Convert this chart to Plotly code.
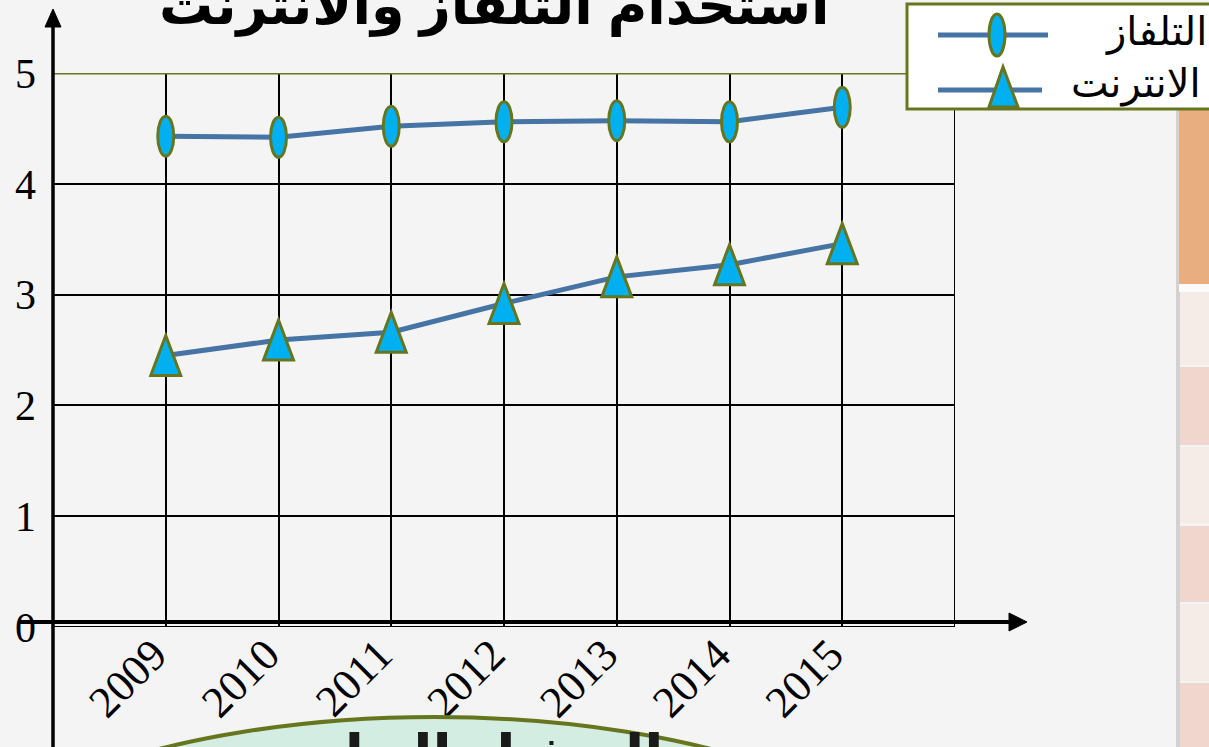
import plotly.graph_objects as go

# ---------------- data ----------------
years = ["2009", "2010", "2011", "2012", "2013", "2014", "2015"]
tv = [4.43, 4.42, 4.52, 4.56, 4.57, 4.56, 4.69]
internet = [2.45, 2.59, 2.66, 2.92, 3.16, 3.27, 3.46]
y_ticks = [0, 1, 2, 3, 4, 5]
series_names = ["التلفاز", "الانترنت"]
title_text = "استخدام التلفاز والانترنت"
banner_text = "التمثيل البياني"

# ---------------- style ----------------
W, H = 1209, 747
L, R, T, B = 53, 955, 73, 627
BG = "#f4f4f4"
LINE = "#4674a4"
FILL = "#00b0f0"
OLIVE = "#66761e"
SERIF = "Liberation Serif, Times New Roman, serif"
SANS = "Arial, Liberation Sans, DejaVu Sans, sans-serif"

XMAX = len(years) + 1
YMAX = 5
xu = XMAX / (R - L)   # data units per pixel
yu = YMAX / (B - T)


def px(x):
    return (x - L) / (R - L)


def py(y):
    return (B - y) / (B - T)


xpos = list(range(1, len(years) + 1))

fig = go.Figure()
fig.add_trace(go.Scatter(x=xpos, y=tv, mode="lines", name=series_names[0],
                         line=dict(color=LINE, width=5), showlegend=False))
fig.add_trace(go.Scatter(x=xpos, y=internet, mode="lines", name=series_names[1],
                         line=dict(color=LINE, width=5), showlegend=False))

shapes = []

# grid edges
shapes.append(dict(type="line", xref="x", yref="y", x0=XMAX, x1=XMAX, y0=0, y1=YMAX,
                   line=dict(color="black", width=2), layer="below"))
shapes.append(dict(type="line", xref="x", yref="y", x0=0, x1=XMAX, y0=0, y1=0,
                   line=dict(color="black", width=2), layer="above"))
shapes.append(dict(type="line", xref="x", yref="y", x0=0, x1=XMAX, y0=YMAX, y1=YMAX,
                   line=dict(color=OLIVE, width=3), layer="above"))

# ellipse markers (TV)
ew, eh = 8 * xu, 20 * yu
for xi, v in zip(xpos, tv):
    shapes.append(dict(type="circle", xref="x", yref="y", x0=xi - ew, x1=xi + ew,
                       y0=v - eh, y1=v + eh, fillcolor=FILL,
                       line=dict(color=OLIVE, width=3), layer="above"))

# triangle markers (Internet)
tw, th = 15 * xu, 20 * yu
for xi, v in zip(xpos, internet):
    path = f"M {xi - tw},{v - th} L {xi + tw},{v - th} L {xi},{v + th} Z"
    shapes.append(dict(type="path", xref="x", yref="y", path=path, fillcolor=FILL,
                       line=dict(color=OLIVE, width=3), layer="above"))

# axes with arrows
shapes.append(dict(type="line", xref="paper", yref="paper", x0=px(53), x1=px(53),
                   y0=py(760), y1=py(24), line=dict(color="black", width=3.5), layer="above"))
shapes.append(dict(type="path", xref="paper", yref="paper",
                   path=f"M {px(53)},{py(9)} L {px(45)},{py(27)} L {px(61)},{py(27)} Z",
                   fillcolor="black", line=dict(color="black", width=1), layer="above"))
shapes.append(dict(type="line", xref="paper", yref="paper", x0=px(19), x1=px(1012),
                   y0=py(622), y1=py(622), line=dict(color="black", width=4), layer="above"))
shapes.append(dict(type="path", xref="paper", yref="paper",
                   path=f"M {px(1027)},{py(622)} L {px(1009)},{py(613)} L {px(1009)},{py(631)} Z",
                   fillcolor="black", line=dict(color="black", width=1), layer="above"))

# right-hand table strip
def rect(x0, y0, x1, y1, color, line=None):
    return dict(type="rect", xref="paper", yref="paper", x0=px(x0), x1=px(x1),
                y0=py(y1), y1=py(y0), fillcolor=color,
                line=line if line else dict(width=0), layer="above")

shapes.append(rect(1176, 108, 1180, 760, "#d2d2d2"))
shapes.append(rect(1179, 108, 1215, 284, "#e8ae7f"))
shapes.append(rect(1179, 284, 1215, 292, "#fbfbfb"))
rows = [(292, 365, "#f5ebe7"), (367, 445, "#f0d6cd"), (447, 523, "#f5ebe7"),
        (526, 602, "#f0d6cd"), (604, 681, "#f5ebe7"), (683, 760, "#f0d6cd")]
for y0, y1, c in rows:
    shapes.append(rect(1180, y0, 1215, y1, c))

# legend box
shapes.append(rect(907, 4, 1215, 109, "white", dict(color=OLIVE, width=3)))
shapes.append(dict(type="line", xref="paper", yref="paper", x0=px(938), x1=px(1048),
                   y0=py(35), y1=py(35), line=dict(color=LINE, width=5), layer="above"))
shapes.append(dict(type="circle", xref="paper", yref="paper", x0=px(989), x1=px(1005),
                   y0=py(56), y1=py(14), fillcolor=FILL, line=dict(color=OLIVE, width=3),
                   layer="above"))
shapes.append(dict(type="line", xref="paper", yref="paper", x0=px(938), x1=px(1042),
                   y0=py(90), y1=py(90), line=dict(color=LINE, width=5), layer="above"))
shapes.append(dict(type="path", xref="paper", yref="paper",
                   path=f"M {px(989)},{py(107)} L {px(1018)},{py(107)} L {px(1003)},{py(67)} Z",
                   fillcolor=FILL, line=dict(color=OLIVE, width=3), layer="above"))

# bottom green banner
shapes.append(dict(type="circle", xref="paper", yref="paper", x0=px(-85), x1=px(955),
                   y0=py(1137), y1=py(717), fillcolor="#d3ede2",
                   line=dict(color=OLIVE, width=4), layer="above"))

annotations = [
    dict(text=f"<b>{title_text}</b>", xref="paper", yref="paper", x=px(494), y=py(6),
         xanchor="center", yanchor="middle", showarrow=False,
         font=dict(family=SANS, size=54, color="black")),
    dict(text=series_names[0], xref="paper", yref="paper", x=px(1156), y=py(32),
         xanchor="center", yanchor="middle", showarrow=False,
         font=dict(family=SANS, size=40, color="black")),
    dict(text=series_names[1], xref="paper", yref="paper", x=px(1136), y=py(84),
         xanchor="center", yanchor="middle", showarrow=False,
         font=dict(family=SANS, size=40, color="black")),
    dict(text=f"<b>{banner_text}</b>", xref="paper", yref="paper", x=px(465), y=py(756),
         xanchor="center", yanchor="middle", showarrow=False,
         font=dict(family=SANS, size=56, color="#1a1a1a")),
]

fig.update_layout(
    width=W, height=H,
    margin=dict(l=L, r=W - R, t=T, b=H - B, autoexpand=False),
    paper_bgcolor=BG, plot_bgcolor=BG,
    shapes=shapes, annotations=annotations, showlegend=False,
    xaxis=dict(range=[0, XMAX], tickvals=xpos, ticktext=years, tickangle=-45,
               showgrid=True, gridcolor="black", gridwidth=2, zeroline=False,
               showline=False, ticks="", automargin=False, ticklabelshift=-12,
               ticklabelstandoff=-8,
               tickfont=dict(family=SERIF, size=44, color="black")),
    yaxis=dict(range=[0, YMAX], tickvals=y_ticks, showgrid=True, gridcolor="black",
               gridwidth=2, zeroline=False, showline=False, ticks="", automargin=False,
               ticklabelstandoff=16,
               tickfont=dict(family=SERIF, size=42, color="black")),
)

fig.write_html(
    "out.html",
    config={"displayModeBar": False},
    post_script="document.body.style.margin='0';document.body.style.background='#f4f4f4';"
                "document.documentElement.style.overflow='hidden';",
)
